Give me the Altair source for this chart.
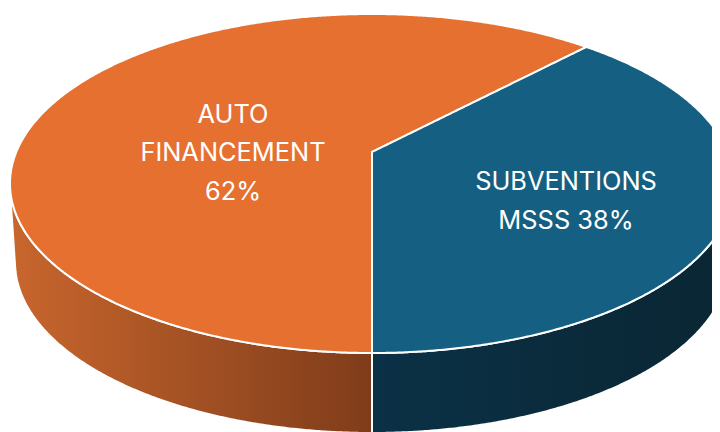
import numpy as np
import pandas as pd
import altair as alt

# Values
slice_names = ["AUTO FINANCEMENT", "SUBVENTIONS MSSS"]
shares = [62, 38]
top_colors = ["#E67030", "#156082"]
label_lines = ["AUTO", "FINANCEMENT", "62%", "SUBVENTIONS", "MSSS 38%"]
label_x = [233, 233, 233, 566, 566]
label_y = [115, 153, 192, 182, 221]

# Drawing geometry of the tilted disc
CX, APEX_Y = 372.0, 152.0
TOP_Y, BOTTOM_Y, HALF_W = 14.0, 353.0, 362.0
MID_Y, HALF_H = (TOP_Y + BOTTOM_Y) / 2, (BOTTOM_Y - TOP_Y) / 2
LOW_MID, LOW_H, LOW_W = 262.0, 171.0, 357.0


def split_point(share):
    near, far = BOTTOM_Y - APEX_Y, APEX_Y - TOP_Y
    k = (near - far) / (near + far)
    b = near * (1 - k)
    a = HALF_W * np.sqrt(1 - k * k)
    ang = np.radians(share * 3.6)
    u, v = np.sin(ang), np.cos(ang)
    d = 1 - k * v
    return CX + a * u / d, APEX_Y + b * v / d


def upper(x):
    return MID_Y - HALF_H * np.sqrt(np.clip(1 - ((x - CX) / HALF_W) ** 2, 0, 1))


def lower(x):
    return MID_Y + HALF_H * np.sqrt(np.clip(1 - ((x - CX) / HALF_W) ** 2, 0, 1))


def low_rim(x):
    y = LOW_MID + LOW_H * np.sqrt(np.clip(1 - ((x - CX) / LOW_W) ** 2, 0, 1))
    return y


SX, SY = split_point(shares[1])
grid = CX + HALF_W * np.cos(np.linspace(np.pi, 0, 500))


def seam(x):
    return APEX_Y + (SY - APEX_Y) * (x - CX) / (SX - CX)


# Orange top face
xa = grid[grid < CX - 0.01]
xb = np.concatenate([[CX], grid[(grid > CX) & (grid < SX)], [SX]])
orange = pd.DataFrame({
    "x": np.concatenate([xa, [CX - 0.01], xb]),
    "y": np.concatenate([upper(xa), [upper(CX)], upper(xb)]),
    "y2": np.concatenate([lower(xa), [lower(CX)], seam(xb)]),
})

# Blue top face
xc = np.concatenate([[CX], grid[(grid > CX) & (grid < SX)], [SX]])
xd = grid[grid > SX]
blue = pd.DataFrame({
    "x": np.concatenate([xc, xd]),
    "y": np.concatenate([seam(xc), upper(xd)]),
    "y2": np.concatenate([lower(xc), lower(xd)]),
})

# Walls
xl = np.concatenate([[11.0], grid[(grid > 15) & (grid < CX)], [CX]])
left_bottom = low_rim(xl)
left_bottom[0] = 205.0
wall_left = pd.DataFrame({"x": xl, "y": lower(xl), "y2": left_bottom})
xr = np.concatenate([[CX], grid[(grid > CX) & (grid < CX + LOW_W - 1)]])
wall_right = pd.DataFrame({"x": xr, "y": lower(xr), "y2": low_rim(xr)})

X = alt.X("x:Q", scale=alt.Scale(domain=[8, 712]), axis=None)
Y = alt.Y("y:Q", scale=alt.Scale(domain=[432, 8]), axis=None)
Y2 = alt.Y2("y2:Q")


def face(df, fill):
    return alt.Chart(df).mark_area(
        fill=fill, stroke="white", strokeWidth=2, clip=True, interpolate="linear"
    ).encode(x=X, y=Y, y2=Y2)


def ramp(c1, c2):
    return alt.Gradient(
        gradient="linear", x1=0, y1=0, x2=1, y2=0,
        stops=[alt.GradientStop(color=c1, offset=0), alt.GradientStop(color=c2, offset=1)],
    )


labels = pd.DataFrame({"x": label_x, "y": label_y, "t": label_lines})
text = alt.Chart(labels).mark_text(
    font="Inter", fontSize=25.4, color="white", align="center", baseline="middle"
).encode(x=X, y=Y, text="t:N")

chart = alt.layer(
    face(wall_left, ramp("#C8662D", "#7F3C1A")),
    face(wall_right, ramp("#0B3146", "#0A2633")),
    face(orange, top_colors[0]),
    face(blue, top_colors[1]),
    text,
).properties(
    width=704, height=424, padding=0, background="white",
    autosize=alt.AutoSizeParams(type="none"),
).configure_view(stroke=None)

chart.save("out.html", embed_options={"renderer": "svg", "actions": False})
